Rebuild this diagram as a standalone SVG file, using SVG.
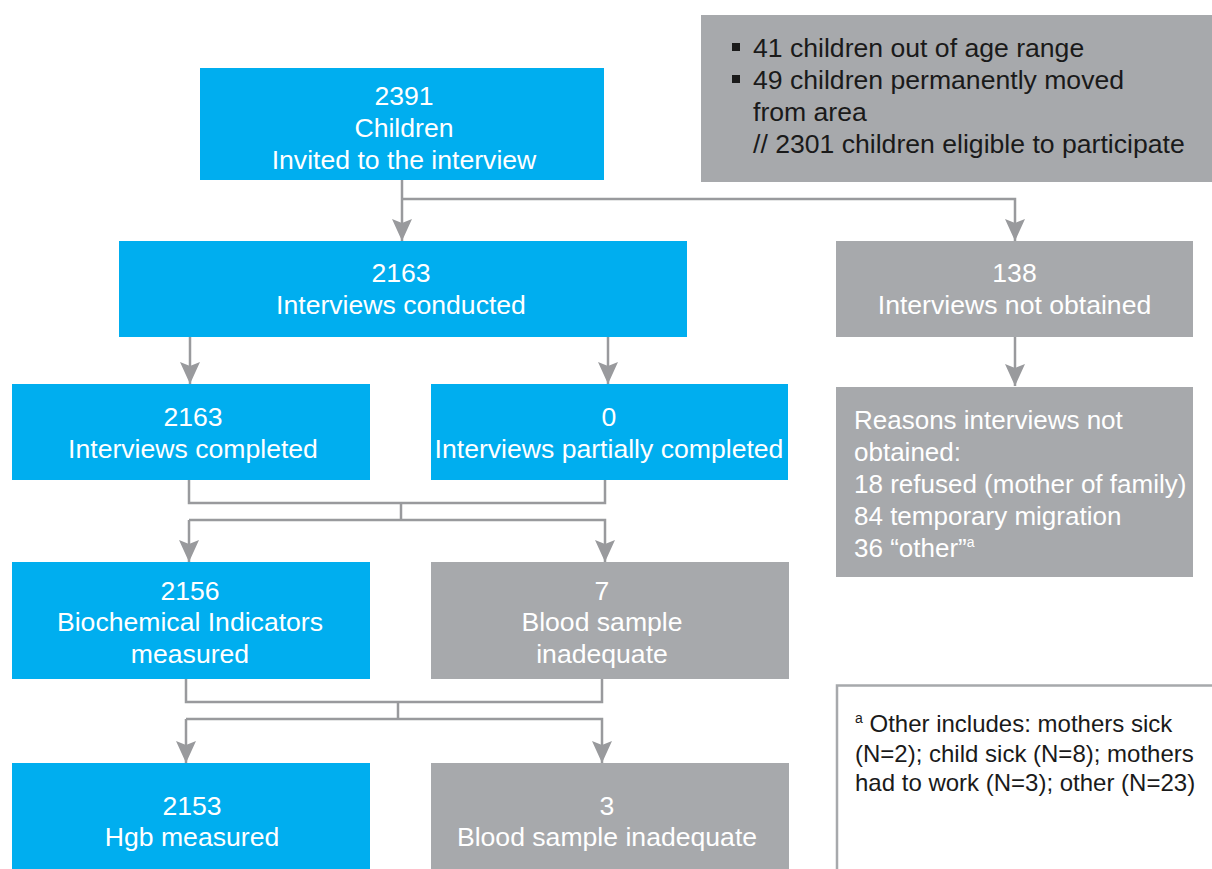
<svg xmlns="http://www.w3.org/2000/svg" width="1212" height="869" viewBox="0 0 1212 869">
<style>
.blue{fill:#00aeef}
.gray{fill:#a7a9ac}
.t{font-family:"Liberation Sans",Arial,sans-serif;font-size:26.6px}
.r{font-family:"Liberation Sans",Arial,sans-serif;font-size:26px}
.w{fill:#ffffff}
.k{fill:#1a1a1a}
.c{text-anchor:middle}
.fn{font-family:"Liberation Sans",Arial,sans-serif;font-size:24px;fill:#1a1a1a}
.ln{fill:none;stroke:#999a9d;stroke-width:2.5}
</style>
<defs>
<marker id="ah" markerUnits="userSpaceOnUse" viewBox="0 0 22 20" refX="22" refY="10" markerWidth="22" markerHeight="20" orient="auto">
<path d="M0,0 L22,10 L0,20 L4,10 Z" fill="#999a9d"/>
</marker>
</defs>
<rect width="1212" height="869" fill="#ffffff"/>

<g id="connectors">
<path class="ln" d="M402,180 V241" marker-end="url(#ah)"/>
<path class="ln" d="M402,199 H1015 V241" marker-end="url(#ah)"/>
<path class="ln" d="M190,337 V384" marker-end="url(#ah)"/>
<path class="ln" d="M608,337 V384" marker-end="url(#ah)"/>
<path class="ln" d="M1015,337 V386" marker-end="url(#ah)"/>
<path class="ln" d="M189,480 V503 H605 V480"/>
<path class="ln" d="M401,503 V520"/>
<path class="ln" d="M189,520 V562" marker-end="url(#ah)"/>
<path class="ln" d="M189,520 H605 V562" marker-end="url(#ah)"/>
<path class="ln" d="M186,679 V702 H602 V679"/>
<path class="ln" d="M398,702 V719"/>
<path class="ln" d="M186,719 V763" marker-end="url(#ah)"/>
<path class="ln" d="M186,719 H602 V763" marker-end="url(#ah)"/>
</g>

<g id="exclusions">
<rect class="gray" x="701" y="15" width="511" height="167"/>
<rect x="732" y="43" width="8" height="8" fill="#1a1a1a"/>
<rect x="732" y="75" width="8" height="8" fill="#1a1a1a"/>
<text class="t k" x="753" y="57">41 children out of age range</text>
<text class="t k" x="753" y="89">49 children permanently moved</text>
<text class="t k" x="753" y="121">from area</text>
<text class="t k" x="753" y="153">// 2301 children eligible to participate</text>
</g>

<g id="invited">
<rect class="blue" x="200" y="68" width="404" height="112"/>
<text class="t w c" x="404" y="105">2391</text>
<text class="t w c" x="404" y="137">Children</text>
<text class="t w c" x="404" y="169">Invited to the interview</text>
</g>

<g id="conducted">
<rect class="blue" x="119" y="241" width="568" height="96"/>
<text class="t w c" x="401" y="282">2163</text>
<text class="t w c" x="401" y="314">Interviews conducted</text>
</g>

<g id="notobtained">
<rect class="gray" x="836" y="241" width="357" height="96"/>
<text class="t w c" x="1014.5" y="282">138</text>
<text class="t w c" x="1014.5" y="314">Interviews not obtained</text>
</g>

<g id="completed">
<rect class="blue" x="12" y="384" width="358" height="96"/>
<text class="t w c" x="193" y="426">2163</text>
<text class="t w c" x="193" y="458">Interviews completed</text>
</g>

<g id="partial">
<rect class="blue" x="431" y="384" width="357" height="96"/>
<text class="t w c" x="609" y="426">0</text>
<text class="t w c" x="609" y="458">Interviews partially completed</text>
</g>

<g id="reasons">
<rect class="gray" x="836" y="387" width="357" height="190"/>
<text class="r w" x="854" y="429">Reasons interviews not</text>
<text class="r w" x="854" y="461">obtained:</text>
<text class="r w" x="854" y="493">18 refused (mother of family)</text>
<text class="r w" x="854" y="525">84 temporary migration</text>
<text class="r w" x="854" y="557">36 “other”<tspan font-size="14" dy="-10">a</tspan></text>
</g>

<g id="biochem">
<rect class="blue" x="12" y="562" width="358" height="117"/>
<text class="t w c" x="190" y="600">2156</text>
<text class="t w c" x="190" y="631">Biochemical Indicators</text>
<text class="t w c" x="190" y="663">measured</text>
</g>

<g id="inadequate1">
<rect class="gray" x="431" y="562" width="358" height="117"/>
<text class="t w c" x="602" y="600">7</text>
<text class="t w c" x="602" y="631">Blood sample</text>
<text class="t w c" x="602" y="663">inadequate</text>
</g>

<g id="hgb">
<rect class="blue" x="12" y="763" width="358" height="106"/>
<text class="t w c" x="192" y="815">2153</text>
<text class="t w c" x="192" y="846">Hgb measured</text>
</g>

<g id="inadequate2">
<rect class="gray" x="431" y="763" width="358" height="106"/>
<text class="t w c" x="607" y="815">3</text>
<text class="t w c" x="607" y="846">Blood sample inadequate</text>
</g>

<g id="footnote">
<path d="M837,870 V685.5 H1213" fill="none" stroke="#a7a9ac" stroke-width="2.5"/>
<text class="fn" x="855" y="732"><tspan font-size="14" dy="-9">a</tspan><tspan dy="9"> Other includes: mothers sick</tspan></text>
<text class="fn" x="855" y="761.5">(N=2); child sick (N=8); mothers</text>
<text class="fn" x="855" y="791">had to work (N=3); other (N=23)</text>
</g>
</svg>
